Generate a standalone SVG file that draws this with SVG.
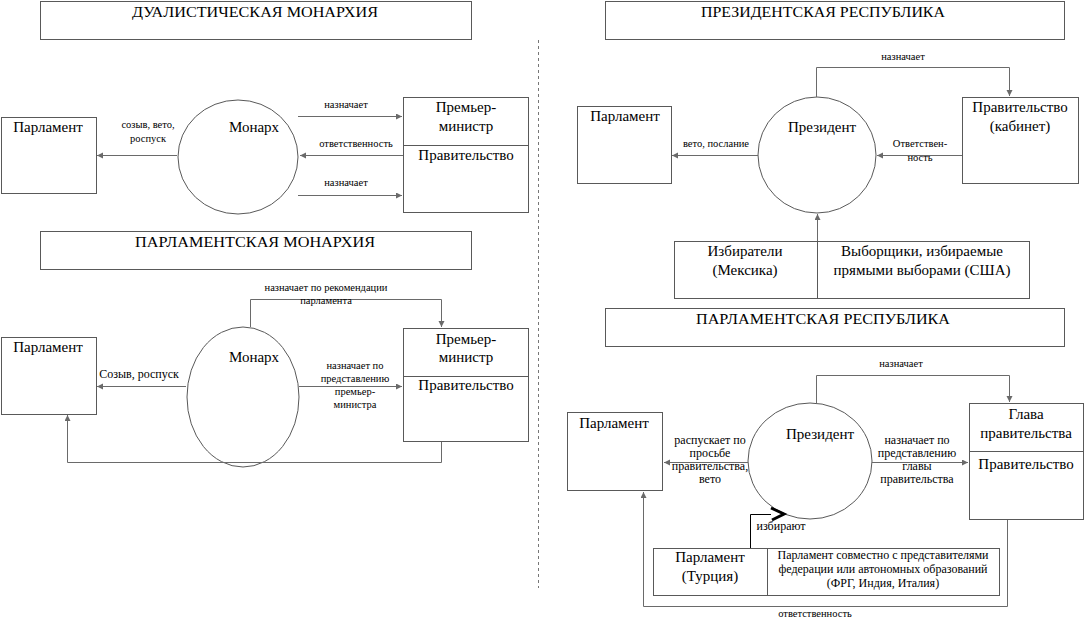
<svg xmlns="http://www.w3.org/2000/svg" width="1087" height="626" viewBox="0 0 1087 626" font-family="'Liberation Serif','Times New Roman','DejaVu Serif',serif">
<style>
.box{fill:#fff;stroke:#595959;stroke-width:1}
.ln{fill:none;stroke:#6a6a6a;stroke-width:1}
text{font-family:'Liberation Serif','Times New Roman','DejaVu Serif',serif;fill:#000;text-anchor:middle}
.n{font-size:15px}
.h{font-size:14.5px}
.l{font-size:10.5px}
.m{font-size:12px}
</style>
<defs>
<marker id="a" markerWidth="8" markerHeight="8" refX="6" refY="3" orient="auto" markerUnits="userSpaceOnUse">
<path d="M0,0 L6,3 L0,6 Z" fill="#6a6a6a"/>
</marker>
</defs>
<rect width="1087" height="626" fill="#fff"/>

<!-- separator -->
<line x1="538.5" y1="40" x2="538.5" y2="588" stroke="#777" stroke-width="1" stroke-dasharray="3,3"/>

<!-- titles -->
<g id="title-dual"><rect class="box" x="40.5" y="1.5" width="431" height="38"/><text class="h" x="255" y="17" textLength="246" lengthAdjust="spacingAndGlyphs">ДУАЛИСТИЧЕСКАЯ МОНАРХИЯ</text></g>
<g id="title-pres"><rect class="box" x="605.5" y="1.5" width="459" height="38"/><text class="h" x="823" y="17" textLength="244" lengthAdjust="spacingAndGlyphs">ПРЕЗИДЕНТСКАЯ РЕСПУБЛИКА</text></g>
<g id="title-parlmon"><rect class="box" x="40.5" y="231.5" width="431" height="38"/><text class="h" x="255" y="247" textLength="240" lengthAdjust="spacingAndGlyphs">ПАРЛАМЕНТСКАЯ МОНАРХИЯ</text></g>
<g id="title-parlrep"><rect class="box" x="605.5" y="308.5" width="459" height="38"/><text class="h" x="823" y="324" textLength="254" lengthAdjust="spacingAndGlyphs">ПАРЛАМЕНТСКАЯ РЕСПУБЛИКА</text></g>

<!-- Dualistic monarchy -->
<g id="dm-parl"><rect class="box" x="1.5" y="117.5" width="95" height="76"/><text class="n" x="48" y="132">Парламент</text></g>
<g id="dm-mon"><ellipse class="box" cx="238" cy="157" rx="60" ry="57"/><text class="n" x="254" y="132">Монарх</text></g>
<g id="dm-pm"><rect class="box" x="403.5" y="97.5" width="125" height="115"/><line class="box" x1="403.5" y1="145.5" x2="528.5" y2="145.5"/><text class="n" x="466" y="112">Премьер-</text><text class="n" x="466" y="131">министр</text><text class="n" x="466" y="160">Правительство</text></g>

<!-- Parliamentary monarchy -->
<g id="pm-parl"><rect class="box" x="1.5" y="337.5" width="95" height="77"/><text class="n" x="48" y="352">Парламент</text></g>
<g id="pm-mon"><ellipse class="box" cx="243" cy="397" rx="56" ry="70"/><text class="n" x="254" y="362">Монарх</text></g>
<g id="pm-pm"><rect class="box" x="403.5" y="328.5" width="125" height="113"/><line class="box" x1="403.5" y1="376.5" x2="528.5" y2="376.5"/><text class="n" x="466" y="344">Премьер-</text><text class="n" x="466" y="362">министр</text><text class="n" x="466" y="390">Правительство</text></g>

<!-- Presidential republic -->
<g id="pr-parl"><rect class="box" x="577.5" y="106.5" width="94" height="77"/><text class="n" x="625" y="121">Парламент</text></g>
<g id="pr-pres"><ellipse class="box" cx="817" cy="155" rx="59" ry="58"/><text class="n" x="822" y="132">Президент</text></g>
<g id="pr-gov"><rect class="box" x="962.5" y="97.5" width="116" height="86"/><text class="n" x="1020" y="112">Правительство</text><text class="n" x="1020" y="131">(кабинет)</text></g>
<g id="pr-elect"><rect class="box" x="674.5" y="241.5" width="355" height="57"/><line class="box" x1="817.5" y1="241.5" x2="817.5" y2="298.5"/><text class="n" x="745" y="256">Избиратели</text><text class="n" x="745" y="275">(Мексика)</text><text class="n" x="922" y="256">Выборщики, избираемые</text><text class="n" x="922" y="275">прямыми выборами (США)</text></g>

<!-- Parliamentary republic -->
<g id="prr-parl"><rect class="box" x="567.5" y="412.5" width="95" height="78"/><text class="n" x="614" y="428">Парламент</text></g>
<g id="prr-pres"><ellipse class="box" cx="810" cy="461" rx="62" ry="58"/><text class="n" x="820" y="439">Президент</text></g>
<g id="prr-head"><rect class="box" x="969.5" y="403.5" width="114" height="116"/><line class="box" x1="969.5" y1="451.5" x2="1083.5" y2="451.5"/><text class="n" x="1026" y="419">Глава</text><text class="n" x="1026" y="438">правительства</text><text class="n" x="1026" y="469">Правительство</text></g>
<g id="prr-elect"><rect class="box" x="653.5" y="548.5" width="346" height="47"/><line class="box" x1="767.5" y1="548.5" x2="767.5" y2="595.5"/><text class="n" x="710" y="562">Парламент</text><text class="n" x="710" y="581">(Турция)</text><text class="m" x="883" y="559">Парламент совместно с представителями</text><text class="m" x="883" y="573">федерации или автономных образований</text><text class="m" x="883" y="587">(ФРГ, Индия, Италия)</text></g>

<!-- connectors -->
<g id="connectors">
<line class="ln" x1="298" y1="116.5" x2="402" y2="116.5" marker-end="url(#a)"/>
<line class="ln" x1="403" y1="155.5" x2="300" y2="155.5" marker-end="url(#a)"/>
<line class="ln" x1="298" y1="195.5" x2="402" y2="195.5" marker-end="url(#a)"/>
<line class="ln" x1="177" y1="155.5" x2="97" y2="155.5" marker-end="url(#a)"/>
<polyline class="ln" points="250.5,327 250.5,299.5 441.5,299.5 441.5,327" marker-end="url(#a)"/>
<line class="ln" x1="299" y1="386.5" x2="402" y2="386.5" marker-end="url(#a)"/>
<line class="ln" x1="186" y1="386.5" x2="97" y2="386.5" marker-end="url(#a)"/>
<polyline class="ln" points="441.5,442 441.5,462.5 67.5,462.5 67.5,415" marker-end="url(#a)"/>
<polyline class="ln" points="816.5,97 816.5,67.5 1009.5,67.5 1009.5,96" marker-end="url(#a)"/>
<line class="ln" x1="962" y1="155.5" x2="877" y2="155.5" marker-end="url(#a)"/>
<line class="ln" x1="758" y1="155.5" x2="672" y2="155.5" marker-end="url(#a)"/>
<line class="ln" x1="817.5" y1="241" x2="817.5" y2="214" marker-end="url(#a)"/>
<polyline class="ln" points="816.5,403 816.5,375.5 1009.5,375.5 1009.5,402" marker-end="url(#a)"/>
<line class="ln" x1="872" y1="462.5" x2="968" y2="462.5" marker-end="url(#a)"/>
<line class="ln" x1="748" y1="462.5" x2="664" y2="462.5" marker-end="url(#a)"/>
<polyline class="ln" points="1007.5,520 1007.5,606.5 643.5,606.5 643.5,492" marker-end="url(#a)"/>
<polyline fill="none" stroke="#000" stroke-width="1" points="750.5,548 750.5,514.5 771,514.5"/>
<polyline fill="none" stroke="#000" stroke-width="3" points="771,508 784,514 772,520"/>
</g>

<!-- labels -->
<g id="labels">
<text class="l" x="346" y="108">назначает</text>
<text class="l" x="356" y="147">ответственность</text>
<text class="l" x="346" y="186">назначает</text>
<text class="l" x="148" y="128">созыв, вето,</text>
<text class="l" x="148" y="142">роспуск</text>
<text class="l" x="326" y="291">назначает по рекомендации</text>
<text class="l" x="326" y="304">парламента</text>
<text class="l" x="355" y="369">назначает по</text>
<text class="l" x="355" y="382">представлению</text>
<text class="l" x="355" y="395">премьер-</text>
<text class="l" x="355" y="408">министра</text>
<text class="m" x="139" y="378">Созыв, роспуск</text>
<text class="l" x="903" y="60">назначает</text>
<text class="l" x="920" y="147">Ответствен-</text>
<text class="l" x="920" y="161">ность</text>
<text class="l" x="716" y="147">вето,  послание</text>
<text class="l" x="901" y="367">назначает</text>
<text class="m" x="917" y="444">назначает по</text>
<text class="m" x="917" y="457">представлению</text>
<text class="m" x="917" y="470">главы</text>
<text class="m" x="917" y="483">правительства</text>
<text class="m" x="710" y="444">распускает по</text>
<text class="m" x="710" y="457">просьбе</text>
<text class="m" x="710" y="470">правительства,</text>
<text class="m" x="710" y="483">вето</text>
<text class="m" x="781" y="530">избирают</text>
<text class="l" x="815" y="617">ответственность</text>
</g>
</svg>
